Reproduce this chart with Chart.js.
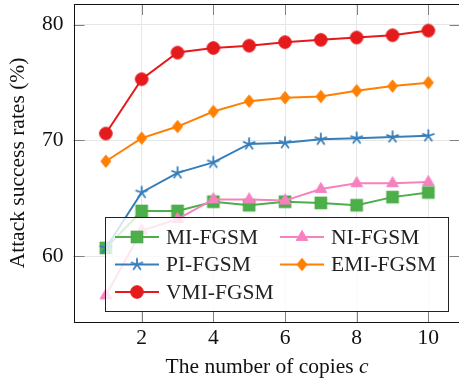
<!DOCTYPE html>
<html>
<head>
<meta charset="utf-8">
<script src="https://cdn.jsdelivr.net/npm/chart.js@4.4.1/dist/chart.umd.min.js"></script>
<style>
  html, body { margin: 0; padding: 0; background: #fff; overflow: hidden; width: 459px; height: 379px; }
  canvas { display: block; }
</style>
</head>
<body>
<canvas id="c" width="462" height="379"></canvas>
<script>
// Number of copies (x values)
const copies = [1, 2, 3, 4, 5, 6, 7, 8, 9, 10];

// Attack success rates (%) per method
const miFgsm  = [60.7, 63.9, 63.9, 64.7, 64.4, 64.7, 64.6, 64.4, 65.1, 65.5];
const niFgsm  = [56.6, 62.2, 63.2, 64.9, 64.9, 64.8, 65.8, 66.3, 66.3, 66.4];
const piFgsm  = [60.7, 65.5, 67.2, 68.1, 69.7, 69.8, 70.1, 70.2, 70.3, 70.4];
const emiFgsm = [68.2, 70.2, 71.2, 72.5, 73.4, 73.7, 73.8, 74.3, 74.7, 75.0];
const vmiFgsm = [70.6, 75.3, 77.6, 78.0, 78.2, 78.5, 78.7, 78.9, 79.1, 79.5];

// Tick labels
const xTickValues = [2, 4, 6, 8, 10];
const yTickValues = [60, 70, 80];

// Series names and axis titles
const seriesNames = ['MI-FGSM', 'NI-FGSM', 'PI-FGSM', 'EMI-FGSM', 'VMI-FGSM'];
const xTitleText = 'The number of copies ';
const xTitleVar = 'c';
const yTitleText = 'Attack success rates (%)';

const SERIF = '"Liberation Serif", "Times New Roman", serif';
const FONT_SIZE = 21.5;

// ---- marker glyphs drawn onto small canvases ----
function markerCanvas(draw) {
  const c = document.createElement('canvas');
  c.width = 20; c.height = 20;
  const g = c.getContext('2d');
  g.translate(10, 10);
  draw(g);
  return c;
}
const COLORS = {
  mi: '#4daf4a', ni: '#f781bf', pi: '#377eb8', emi: '#ff7f00', vmi: '#e41a1c'
};
const squareMark = markerCanvas(g => {
  g.fillStyle = COLORS.mi; g.strokeStyle = '#44a341'; g.lineWidth = 1;
  g.fillRect(-5.8, -5.8, 11.6, 11.6);
  g.strokeRect(-5.8, -5.8, 11.6, 11.6);
});
const triangleMark = markerCanvas(g => {
  g.fillStyle = COLORS.ni; g.strokeStyle = COLORS.ni; g.lineWidth = 1;
  g.beginPath(); g.moveTo(0, -6.6); g.lineTo(5.8, 3.4); g.lineTo(-5.8, 3.4); g.closePath();
  g.fill(); g.stroke();
});
const starMark = markerCanvas(g => {
  g.strokeStyle = COLORS.pi; g.lineWidth = 1.8; g.lineCap = 'round';
  g.beginPath();
  for (let k = 0; k < 5; k++) {
    const a = -Math.PI / 2 + k * 2 * Math.PI / 5;
    g.moveTo(0, 0); g.lineTo(Math.cos(a) * 5.8, Math.sin(a) * 5.8);
  }
  g.stroke();
});
const diamondMark = markerCanvas(g => {
  g.fillStyle = COLORS.emi; g.strokeStyle = COLORS.emi; g.lineWidth = 1;
  g.beginPath(); g.moveTo(0, -6.2); g.lineTo(5, 0); g.lineTo(0, 6.2); g.lineTo(-5, 0); g.closePath();
  g.fill(); g.stroke();
});
const circleMark = markerCanvas(g => {
  g.fillStyle = COLORS.vmi; g.strokeStyle = COLORS.vmi; g.lineWidth = 1;
  g.beginPath(); g.arc(0, 0, 6.3, 0, Math.PI * 2); g.fill(); g.stroke();
});

function series(name, values, color, mark, order) {
  return {
    label: name,
    data: copies.map((x, i) => ({ x: x, y: values[i] })),
    borderColor: color,
    backgroundColor: color,
    borderWidth: 2,
    pointStyle: mark,
    pointRadius: 7,
    tension: 0,
    order: order,
    clip: false,
    legendMark: mark
  };
}

const datasets = [
  series(seriesNames[0], miFgsm,  COLORS.mi,  squareMark,   4),
  series(seriesNames[1], niFgsm,  COLORS.ni,  triangleMark, 3),
  series(seriesNames[2], piFgsm,  COLORS.pi,  starMark,     2),
  series(seriesNames[3], emiFgsm, COLORS.emi, diamondMark,  1),
  series(seriesNames[4], vmiFgsm, COLORS.vmi, circleMark,   0)
];

// Frame with inward tick marks on all four sides
const framePlugin = {
  id: 'frame',
  beforeDatasetsDraw(chart) {
    const { ctx, chartArea: a, scales } = chart;
    const tl = 11;
    ctx.save();
    ctx.strokeStyle = '#808080';
    ctx.lineWidth = 1;
    ctx.beginPath();
    xTickValues.forEach(v => {
      const px = Math.round(scales.x.getPixelForValue(v)) + 0.5;
      ctx.moveTo(px, a.top); ctx.lineTo(px, a.top + tl);
      ctx.moveTo(px, a.bottom); ctx.lineTo(px, a.bottom - tl);
    });
    yTickValues.forEach(v => {
      const py = Math.round(scales.y.getPixelForValue(v)) + 0.5;
      ctx.moveTo(a.left, py); ctx.lineTo(a.left + tl, py);
      ctx.moveTo(a.right, py); ctx.lineTo(a.right - tl, py);
    });
    ctx.stroke();
    ctx.strokeStyle = '#111';
    ctx.strokeRect(Math.round(a.left) + 0.5, Math.round(a.top) + 0.5,
                   Math.round(a.right - a.left), Math.round(a.bottom - a.top));
    ctx.restore();
  }
};

// Two-column legend box inside the plot
const legendPlugin = {
  id: 'boxLegend',
  afterDatasetsDraw(chart) {
    const ctx = chart.ctx;
    const box = { x: 105.5, y: 217.5, w: 343, h: 94 };
    const cols = [115, 280];
    const rows = [237, 264.5, 292];
    // items placed row by row, two per row
    const layout = [[0, 0], [1, 0], [0, 1], [1, 1], [0, 2]];
    ctx.save();
    ctx.fillStyle = 'rgba(255,255,255,0.8)';
    ctx.fillRect(box.x, box.y, box.w, box.h);
    ctx.strokeStyle = '#222';
    ctx.lineWidth = 1;
    ctx.strokeRect(box.x, box.y, box.w, box.h);
    ctx.font = FONT_SIZE + 'px ' + SERIF;
    ctx.textBaseline = 'middle';
    ctx.textAlign = 'left';
    chart.data.datasets.forEach((ds, i) => {
      const [c, r] = layout[i];
      const x0 = cols[c], y = rows[r];
      ctx.strokeStyle = ds.borderColor;
      ctx.lineWidth = 2;
      ctx.beginPath(); ctx.moveTo(x0, y); ctx.lineTo(x0 + 44, y); ctx.stroke();
      const m = ds.legendMark;
      ctx.drawImage(m, x0 + 22 - m.width / 2, y - m.height / 2);
      ctx.fillStyle = '#222';
      ctx.fillText(ds.label, x0 + 51, y + 1);
    });
    ctx.restore();
  }
};

// Axis titles (x title ends with an italic variable)
const titlePlugin = {
  id: 'axisTitles',
  afterDraw(chart) {
    const { ctx, chartArea: a } = chart;
    ctx.save();
    ctx.fillStyle = '#111';
    ctx.textBaseline = 'alphabetic';
    const upright = FONT_SIZE + 'px ' + SERIF;
    const italic = 'italic ' + FONT_SIZE + 'px ' + SERIF;
    ctx.font = upright;
    const w1 = ctx.measureText(xTitleText).width;
    ctx.font = italic;
    const w2 = ctx.measureText(xTitleVar).width;
    const cx = (a.left + a.right) / 2;
    let x = cx - (w1 + w2) / 2;
    ctx.textAlign = 'left';
    ctx.font = upright;
    ctx.fillText(xTitleText, x, 372.7);
    ctx.font = italic;
    ctx.fillText(xTitleVar, x + w1, 372.7);

    ctx.translate(23.5, (a.top + a.bottom) / 2);
    ctx.rotate(-Math.PI / 2);
    ctx.font = upright;
    ctx.textAlign = 'center';
    ctx.fillText(yTitleText, 0, 0);
    ctx.restore();
  }
};

function noLabelPadding(s) {
  s.paddingTop = 0; s.paddingBottom = 0; s.paddingLeft = 0; s.paddingRight = 0;
}

new Chart(document.getElementById('c'), {
  type: 'line',
  data: { datasets: datasets },
  options: {
    responsive: false,
    animation: false,
    devicePixelRatio: 1,
    layout: { autoPadding: false, padding: { top: 4, right: 1.4, left: 0, bottom: 0 } },
    plugins: { legend: { display: false }, tooltip: { enabled: false } },
    scales: {
      x: {
        type: 'linear',
        min: 0.1,
        max: 10.9,
        afterBuildTicks(s) { s.ticks = xTickValues.map(v => ({ value: v })); },
        afterFit(s) { s.height = 57; noLabelPadding(s); },
        grid: { color: '#e6e6e6', drawTicks: false },
        border: { display: false },
        ticks: { font: { family: SERIF, size: FONT_SIZE }, color: '#111', padding: 3.3, maxRotation: 0 }
      },
      y: {
        type: 'linear',
        min: 54.3,
        max: 81.8,
        afterBuildTicks(s) { s.ticks = yTickValues.map(v => ({ value: v })); },
        afterFit(s) { s.width = 73.6; noLabelPadding(s); },
        grid: { color: '#e6e6e6', drawTicks: false },
        border: { display: false },
        ticks: { font: { family: SERIF, size: FONT_SIZE }, color: '#111', padding: 10 }
      }
    }
  },
  plugins: [framePlugin, legendPlugin, titlePlugin]
});
</script>
</body>
</html>
